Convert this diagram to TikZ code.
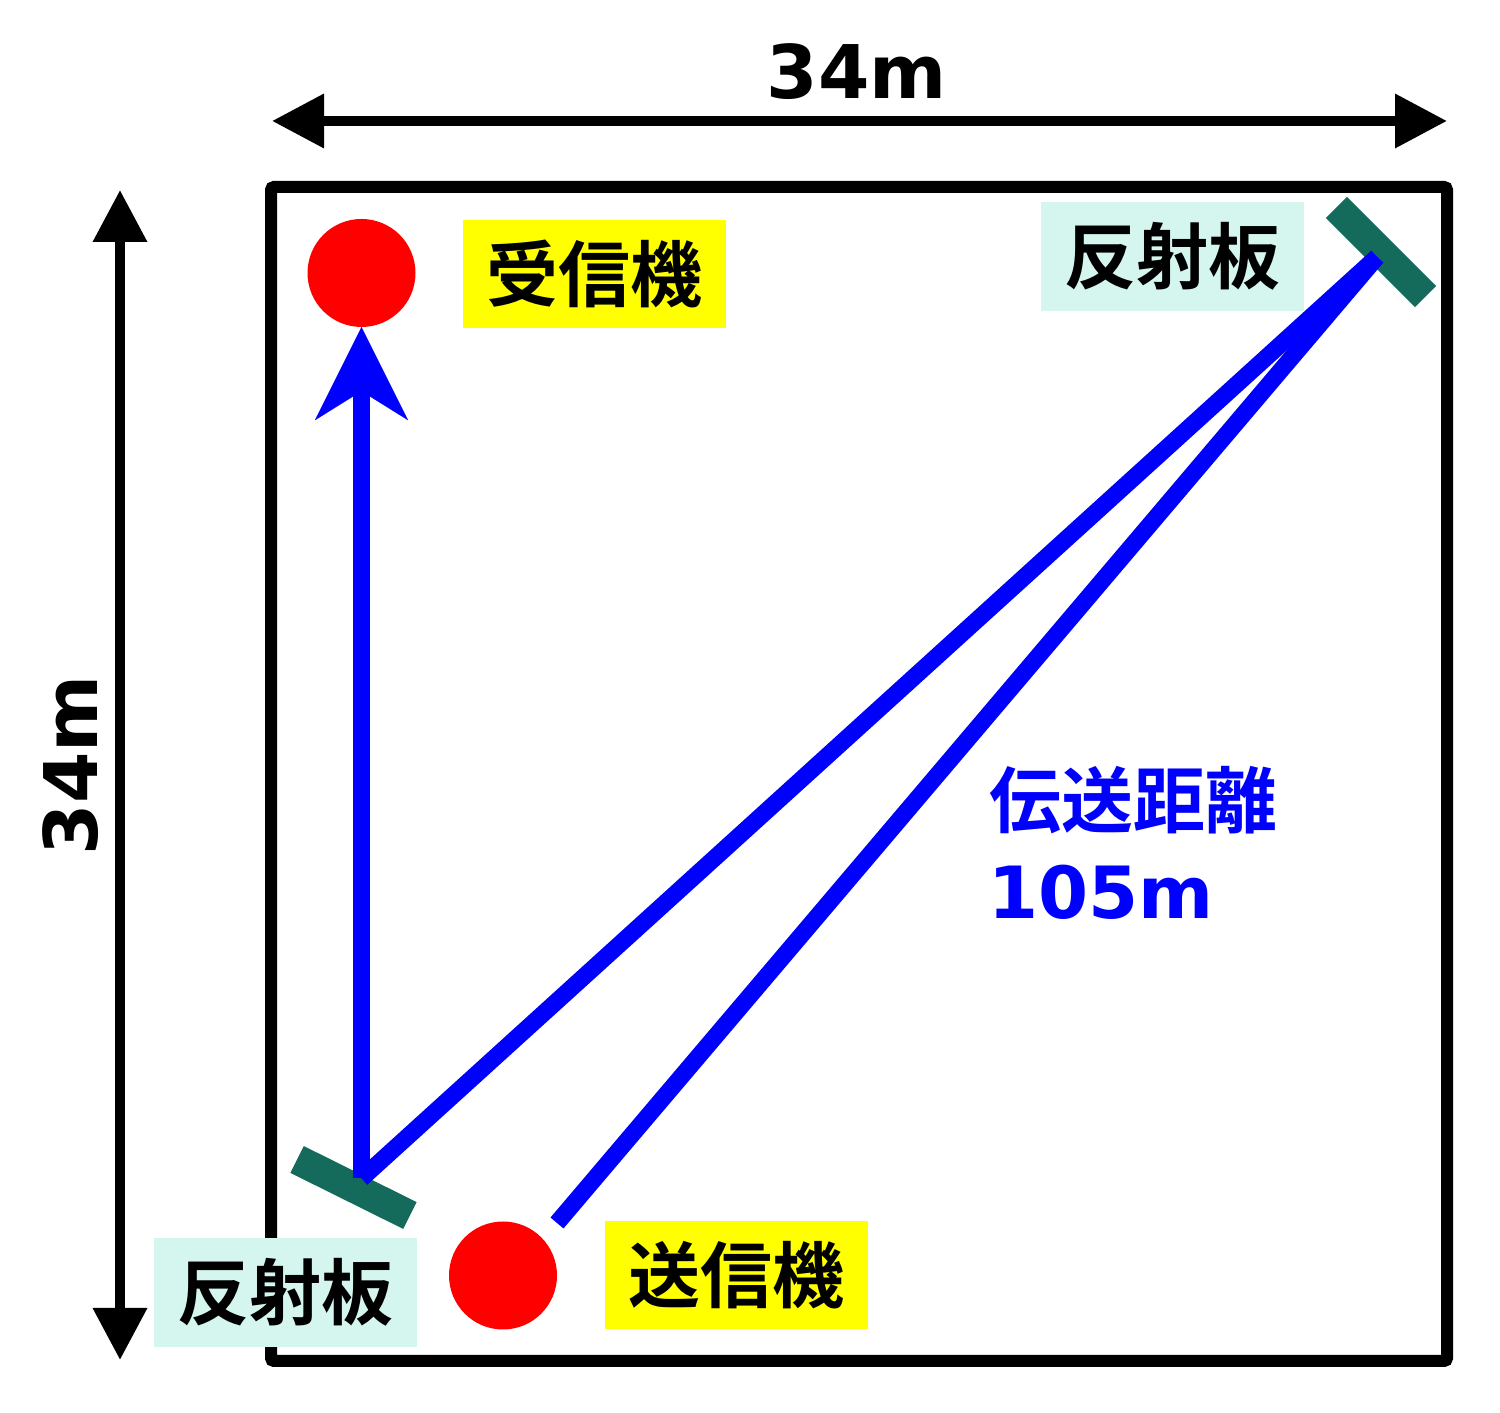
\documentclass[tikz,border=0pt]{standalone}
\usepackage{fontspec}
\usetikzlibrary{arrows.meta}
\newfontfamily\jpfont{Noto Sans CJK JP}[BoldFont={Noto Sans CJK JP Bold}]
\newfontfamily\latfont{DejaVu Sans}
\definecolor{sigblue}{HTML}{0000FF}
\definecolor{dotred}{HTML}{FF0000}
\definecolor{labyellow}{HTML}{FFFF00}
\definecolor{labcyan}{HTML}{D5F5EF}
\definecolor{plate}{HTML}{146B5B}
\tikzset{
  jplabel/.style={inner sep=0pt, font=\jpfont\bfseries\fontsize{72}{86}\selectfont},
  dimlabel/.style={inner sep=0pt, font=\latfont\bfseries\fontsize{74}{90}\selectfont},
  yellowbox/.style={fill=labyellow, minimum width=263pt, minimum height=108pt, inner sep=0pt},
  cyanbox/.style={fill=labcyan, minimum width=263pt, minimum height=109pt, inner sep=0pt},
  station/.style={circle, fill=dotred, minimum size=108pt, inner sep=0pt},
  reflector/.style={fill=plate, minimum width=126pt, minimum height=30pt, inner sep=0pt},
  dimarrow/.style={line width=10pt, {Triangle[length=52pt,width=52pt]}-{Triangle[length=52pt,width=52pt]}},
  signal/.style={draw=sigblue, line width=17pt}
}
\begin{document}
\begin{tikzpicture}[x=1pt,y=1pt]
\useasboundingbox (0,0) rectangle (1500,1413);
% frame
\draw[line width=12pt, rounded corners=3pt] (271,1226) rectangle (1447,52);
% dimension arrows
\coordinate (hl) at (272,1292);
\coordinate (hr) at (1447,1292);
\coordinate (vt) at (120,1223);
\coordinate (vb) at (120,53);
\draw[dimarrow] (hl) -- (hr);
\draw[dimarrow] (vt) -- (vb);
\node[dimlabel] (wlab) at (857,1341) {34m};
\node[dimlabel, rotate=90] (hlab) at (71,648) {34m};
% stations
\node[station] (rx) at (361.5,1140) {};
\node[station] (tx) at (503,137.5) {};
% reflectors
\node[reflector, rotate=-45] (rf1) at (1381,1161) {};
\node[reflector, rotate=-26.4] (rf2) at (353.5,225.5) {};
% signal path
\coordinate (ta) at (557,190);
\coordinate (tr) at (1377,1156);
\coordinate (bl) at (361.5,234.5);
\draw[signal] (ta) -- (tr);
\draw[signal] (tr) -- (bl);
\draw[signal, -{Stealth[length=93pt,width=93pt,inset=29pt,line width=0.01pt]}] (bl) -- (rx.south);
% labels
\node[yellowbox] (rxbox) at (594.5,1139) {};
\node[jplabel] (rxlab) at (rxbox.center) {受信機};
\node[yellowbox] (txbox) at (736,138) {};
\node[jplabel] (txlab) at (txbox.center) {送信機};
\node[cyanbox] (rfbox1) at (1172.5,1156.5) {};
\node[jplabel] (rflab1) at (rfbox1.center) {反射板};
\node[cyanbox] (rfbox2) at (285.5,120.5) {};
\node[jplabel] (rflab2) at (rfbox2.center) {反射板};
\node[jplabel, text=sigblue] (distlab) at (1133.5,613) {伝送距離};
\node[dimlabel, text=sigblue, font=\latfont\bfseries\fontsize{72}{86}\selectfont] (distval) at (1101,521) {105m};
\end{tikzpicture}
\end{document}
